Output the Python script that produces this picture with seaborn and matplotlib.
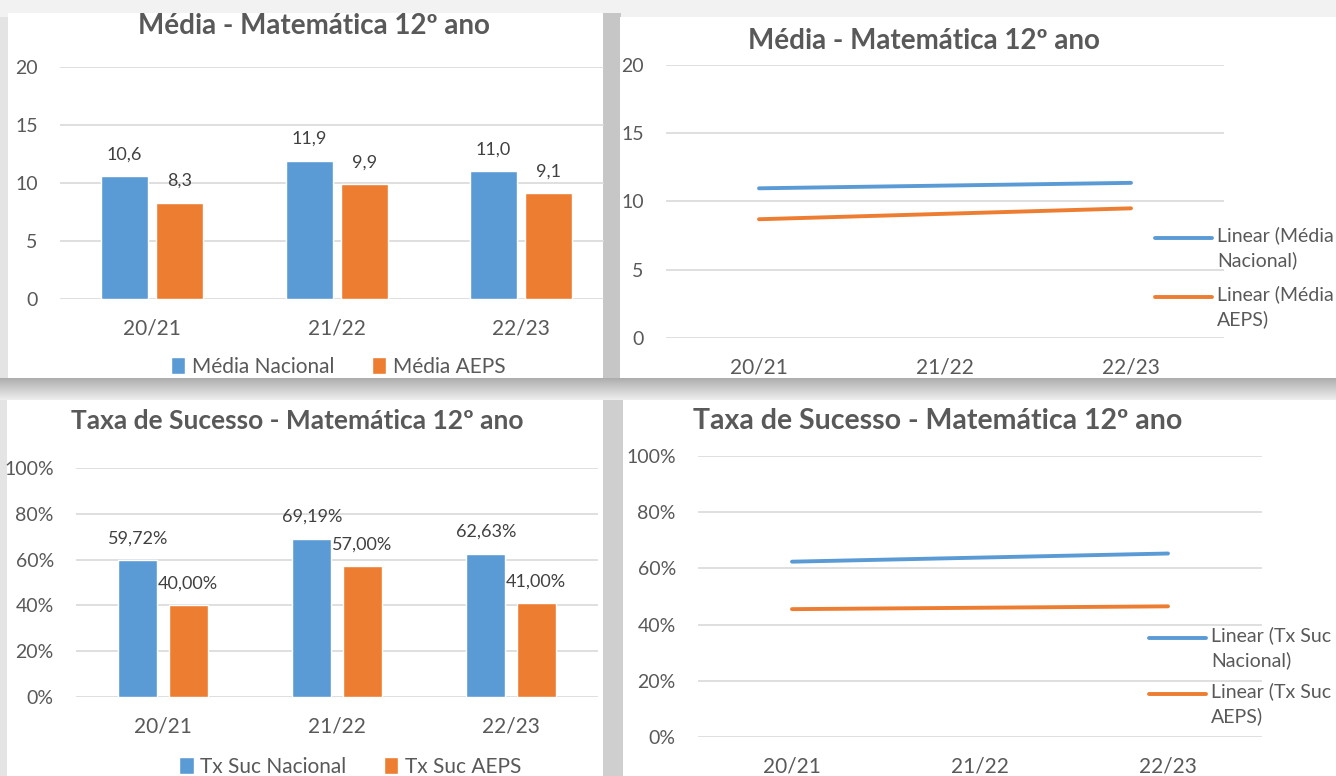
import numpy as np
import pandas as pd
import matplotlib.pyplot as plt
import seaborn as sns
from matplotlib.patches import Rectangle
from matplotlib.lines import Line2D

# chart data
seasons = ["20/21", "21/22", "22/23"]
media_nacional = [10.6, 11.9, 11.0]
media_aeps = [8.3, 9.9, 9.1]
tx_nacional = [59.72, 69.19, 62.63]
tx_aeps = [40.00, 57.00, 41.00]

media_series = ["Média Nacional", "Média AEPS"]
tx_series = ["Tx Suc Nacional", "Tx Suc AEPS"]
media_trend_labels = ["Linear (Média\nNacional)", "Linear (Média\nAEPS)"]
tx_trend_labels = ["Linear (Tx Suc\nNacional)", "Linear (Tx Suc\nAEPS)"]
chart_title_media = "Média - Matemática 12º ano"
chart_title_tx = "Taxa de Sucesso - Matemática 12º ano"

BLUE = "#5b9bd5"
ORANGE = "#ed7d31"
TXT = "#595959"
GRID = "#d9d9d9"

sns.set_style("white")
plt.rcParams["font.family"] = ["Lato", "DejaVu Sans"]

W, H = 1336, 776
fig = plt.figure(figsize=(W / 100, H / 100), dpi=100, facecolor="#e8e8e8")


def rect(x0, y0, x1, y1):
    return [x0 / W, 1 - y1 / H, (x1 - x0) / W, (y1 - y0) / H]


def fill(x0, y0, x1, y1, color, z=-20):
    r = rect(x0, y0, x1, y1)
    fig.add_artist(Rectangle((r[0], r[1]), r[2], r[3], transform=fig.transFigure,
                             color=color, lw=0, zorder=z))


# background: light strips, gray shadow bands between the four cards
fill(0, 0, W, 17, "#f2f2f2")
fill(603, 13, 621, 378, "#c6c6c6")
fill(603, 400, 623, 776, "#cfcfcf")
n = 22
for i in range(n):
    g = 0.68 + (0.93 - 0.68) * i / (n - 1)
    fill(0, 378 + i, W, 379 + i, (g, g, g), z=-19)
fill(0, 17, 8, 378, "#e4e4e4", z=-18)
fill(0, 400, 7, 776, "#e4e4e4", z=-18)

cards = [(8, 13, 603, 378), (620, 17, 1336, 378), (7, 400, 603, 776), (623, 400, 1336, 776)]
for c in cards:
    fill(*c, "white", z=-10)


def style_axes(ax, ymax, step, pct=False):
    ax.set_ylim(0, ymax)
    ticks = np.arange(0, ymax + 0.1, step)
    ax.set_yticks(ticks)
    if pct:
        ax.set_yticklabels([f"{t:.0f}%" for t in ticks])
    ax.yaxis.grid(True, color=GRID, lw=1.2)
    ax.set_axisbelow(True)
    for s in ax.spines.values():
        s.set_visible(False)
    ax.tick_params(axis="y", length=0, pad=16, labelsize=14, labelcolor=TXT)
    ax.tick_params(axis="x", length=0, pad=14, labelsize=15, labelcolor=TXT)
    ax.set_xlabel("")
    ax.set_ylabel("")
    ax.set_facecolor("none")


def bar_chart(box, nat, aeps, names, ymax, step, width, gap, pct, xmax,
              title, title_xy, title_size, legend_xy):
    ax = fig.add_axes(rect(*box))
    df = pd.DataFrame({
        "Ano": seasons * 2,
        "Série": [names[0]] * 3 + [names[1]] * 3,
        "Valor": list(nat) + list(aeps),
    })
    sns.barplot(data=df, x="Ano", y="Valor", hue="Série", palette=[BLUE, ORANGE],
                saturation=1, width=width, gap=gap, ax=ax)
    style_axes(ax, ymax, step, pct)
    ax.set_xlim(-0.5, xmax)
    fmt = (lambda v: f"{v:.2f}%".replace(".", ",")) if pct else (lambda v: f"{v:.1f}".replace(".", ","))
    for cont in ax.containers:
        ax.bar_label(cont, labels=[fmt(b.get_height()) for b in cont], padding=10,
                     fontsize=13, color="#404040")
    ax.legend(loc="center", bbox_to_anchor=(legend_xy[0] / W, 1 - legend_xy[1] / H),
              bbox_transform=fig.transFigure, ncol=2, frameon=False, fontsize=15,
              handlelength=0.7, handleheight=0.9, handletextpad=0.3, columnspacing=1.8,
              labelcolor=TXT)
    fig.text(title_xy[0] / W, 1 - title_xy[1] / H, title, ha="center", va="center",
             fontsize=title_size, fontweight="bold", color=TXT)
    return ax


def trend_chart(box, nat, aeps, labels, ymax, step, pct, title, title_xy, title_size,
                leg_x, leg_ys):
    ax = fig.add_axes(rect(*box))
    xpos = np.arange(len(seasons))
    for vals, col in [(nat, BLUE), (aeps, ORANGE)]:
        sns.regplot(x=xpos, y=np.array(vals), ci=None, scatter=False, truncate=True,
                    color=col, line_kws={"lw": 2.8}, ax=ax)
    style_axes(ax, ymax, step, pct)
    ax.set_xlim(-0.5, 2.5)
    ax.set_xticks(xpos)
    ax.set_xticklabels(seasons)
    fig.text(title_xy[0] / W, 1 - title_xy[1] / H, title, ha="center", va="center",
             fontsize=title_size, fontweight="bold", color=TXT)
    for lab, col, y in zip(labels, [BLUE, ORANGE], leg_ys):
        fig.add_artist(Line2D([leg_x / W, (leg_x + 57) / W], [1 - y / H, 1 - y / H],
                              color=col, lw=2.8, transform=fig.transFigure))
        fig.text((leg_x + 62) / W, 1 - (y - 12) / H, lab, ha="left", va="top",
                 fontsize=14, color=TXT, linespacing=1.5)
    return ax


bar_chart((60, 67, 604, 299), media_nacional, media_aeps, media_series, 20, 5,
          0.6, 0.15, False, -0.5 + 544 / 184.5, chart_title_media, (314, 26), 20, (338, 367))
trend_chart((666, 65, 1224, 338), media_nacional, media_aeps, media_trend_labels, 20, 5,
            False, chart_title_media, (924, 41), 20, 1155, (238, 297))
bar_chart((76, 468, 598, 697), tx_nacional, tx_aeps, tx_series, 100, 20,
          0.58, 0.23, True, 2.5, chart_title_tx, (297, 421), 19, (350, 767))
trend_chart((698, 456, 1262, 737), tx_nacional, tx_aeps, tx_trend_labels, 100, 20,
            True, chart_title_tx, (938, 421), 20.5, 1149, (638, 694))

fig.savefig("out.png", dpi=100)
